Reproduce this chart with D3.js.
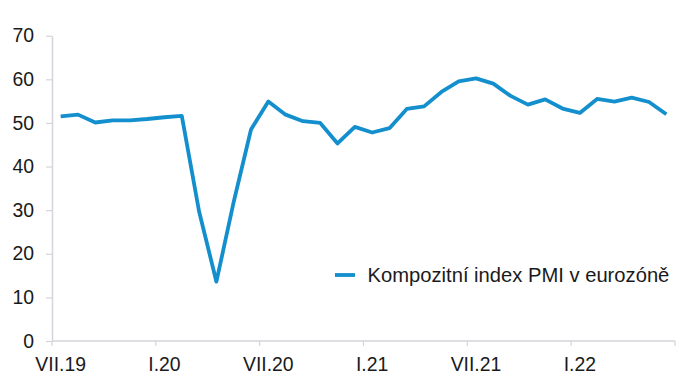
<!DOCTYPE html>
<html>
<head>
<meta charset="utf-8">
<script src="https://cdn.jsdelivr.net/npm/d3@7"></script>
<style>
  html, body { margin: 0; padding: 0; background: #fff; }
  svg { display: block; font-family: "Liberation Sans", Arial, sans-serif; }
</style>
</head>
<body>
<svg id="chart" width="676" height="382"></svg>
<script>
const months = ["VII.19","VIII.19","IX.19","X.19","XI.19","XII.19",
  "I.20","II.20","III.20","IV.20","V.20","VI.20",
  "VII.20","VIII.20","IX.20","X.20","XI.20","XII.20",
  "I.21","II.21","III.21","IV.21","V.21","VI.21",
  "VII.21","VIII.21","IX.21","X.21","XI.21","XII.21",
  "I.22","II.22","III.22","IV.22","V.22","VI.22"];
const pmiValues = [51.5, 51.9, 50.1, 50.6, 50.6, 50.9,
  51.3, 51.6, 29.7, 13.6, 31.9, 48.5,
  54.9, 51.9, 50.4, 50.0, 45.3, 49.1,
  47.8, 48.8, 53.2, 53.8, 57.1, 59.5,
  60.2, 59.0, 56.2, 54.2, 55.4, 53.3,
  52.3, 55.5, 54.9, 55.8, 54.8, 52.0];
const xTickLabels = ["VII.19","I.20","VII.20","I.21","VII.21","I.22"];
const yTicks = [0, 10, 20, 30, 40, 50, 60, 70];
const seriesName = "Kompozitní index PMI v eurozóně";

const svg = d3.select("#chart");
const mLeft = 52, mRight = 675, mTop = 35.7, mBottom = 341;
const fontSize = 19.4;
const textColor = "#1a1a1a";
const axisColor = "#d4d4da";
const lineColor = "#138fcd";

const x = d3.scaleBand().domain(months).range([mLeft, mRight]).paddingInner(0).paddingOuter(0);
const y = d3.scaleLinear().domain([0, 70]).range([mBottom, mTop]);

// Y axis
const yAxis = svg.append("g")
  .attr("transform", `translate(${mLeft},0)`)
  .call(d3.axisLeft(y).tickValues(yTicks).tickSize(6).tickPadding(12).tickSizeOuter(0));
yAxis.select(".domain").attr("stroke", axisColor).attr("stroke-width", 1.5);
yAxis.selectAll(".tick line").attr("stroke", axisColor).attr("stroke-width", 1.2);
yAxis.selectAll(".tick text").attr("fill", textColor).attr("font-size", fontSize)
  .attr("font-family", "Liberation Sans, Arial, sans-serif");

// X axis: ticks at category boundaries every 6 months, labels centred on categories
const xg = svg.append("g").attr("transform", `translate(0,${mBottom})`);
xg.append("line").attr("x1", mLeft).attr("x2", mRight).attr("y1", 0).attr("y2", 0)
  .attr("stroke", axisColor).attr("stroke-width", 1.5);
const boundaries = months.map((m, i) => i).filter(i => i % 6 === 0).map(i => x(months[i]));
boundaries.push(mRight);
xg.selectAll("line.tk").data(boundaries).enter().append("line").attr("class", "tk")
  .attr("x1", d => d).attr("x2", d => d).attr("y1", 0).attr("y2", 5)
  .attr("stroke", axisColor).attr("stroke-width", 1.2);
const xAxis = d3.axisBottom(x).tickValues(xTickLabels).tickSize(0).tickPadding(16);
const xa = svg.append("g").attr("transform", `translate(0,${mBottom})`).call(xAxis);
xa.select(".domain").remove();
xa.selectAll(".tick text").attr("fill", textColor).attr("font-size", fontSize)
  .attr("font-family", "Liberation Sans, Arial, sans-serif");

// Line
const line = d3.line()
  .x((d, i) => x(months[i]) + x.bandwidth() / 2)
  .y(d => y(d));
svg.append("path").datum(pmiValues)
  .attr("fill", "none").attr("stroke", lineColor).attr("stroke-width", 3.8)
  .attr("stroke-linejoin", "round").attr("stroke-linecap", "butt")
  .attr("d", line);

// Legend
const lg = svg.append("g").attr("transform", "translate(335,275)");
lg.append("line").attr("x1", 0).attr("x2", 20).attr("y1", 0).attr("y2", 0)
  .attr("stroke", lineColor).attr("stroke-width", 3.8);
lg.append("text").attr("x", 32.5).attr("y", 7).attr("fill", textColor)
  .attr("font-size", 20.2).text(seriesName);
</script>
</body>
</html>
